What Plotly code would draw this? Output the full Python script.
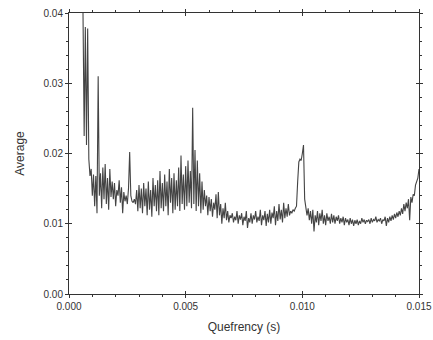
import numpy as np
import plotly.graph_objects as go

# Quefrency grid start/step (s) and averaged cepstrum values
q_start = 0.0006
q_step = 0.00005
average = [
    0.0400, 0.0225, 0.0380, 0.0212, 0.0378, 0.0192, 0.0168, 0.0178, 0.0140, 0.0170,
    0.0125, 0.0168, 0.0115, 0.0310, 0.0140, 0.0172, 0.0122, 0.0180, 0.0135, 0.0185,
    0.0128, 0.0165, 0.0120, 0.0178, 0.0138, 0.0160, 0.0135, 0.0158, 0.0125, 0.0148,
    0.0140, 0.0162, 0.0130, 0.0152, 0.0115, 0.0145, 0.0132, 0.0140, 0.0128, 0.0150,
    0.0202, 0.0140, 0.0132, 0.0130, 0.0135, 0.0128, 0.0148, 0.0118, 0.0155, 0.0122,
    0.0150, 0.0115, 0.0158, 0.0125, 0.0150, 0.0112, 0.0160, 0.0120, 0.0148, 0.0110,
    0.0165, 0.0125, 0.0155, 0.0118, 0.0162, 0.0112, 0.0175, 0.0122, 0.0158, 0.0118,
    0.0170, 0.0125, 0.0160, 0.0112, 0.0178, 0.0130, 0.0165, 0.0115, 0.0172, 0.0120,
    0.0162, 0.0125, 0.0180, 0.0118, 0.0197, 0.0128, 0.0170, 0.0120, 0.0182, 0.0125,
    0.0190, 0.0130, 0.0175, 0.0122, 0.0265, 0.0128, 0.0205, 0.0118, 0.0190, 0.0125,
    0.0172, 0.0115, 0.0160, 0.0120, 0.0148, 0.0125, 0.0140, 0.0112, 0.0138, 0.0118,
    0.0135, 0.0110, 0.0130, 0.0120, 0.0142, 0.0108, 0.0145, 0.0112, 0.0128, 0.0100,
    0.0122, 0.0108, 0.0130, 0.0105, 0.0118, 0.0102, 0.0112, 0.0108, 0.0115, 0.0102,
    0.0110, 0.0105, 0.0118, 0.0100, 0.0112, 0.0106, 0.0115, 0.0098, 0.0110, 0.0104,
    0.0118, 0.0094, 0.0108, 0.0102, 0.0115, 0.0100, 0.0112, 0.0106, 0.0118, 0.0102,
    0.0110, 0.0104, 0.0120, 0.0098, 0.0112, 0.0105, 0.0118, 0.0097, 0.0114, 0.0102,
    0.0120, 0.0100, 0.0116, 0.0108, 0.0125, 0.0098, 0.0118, 0.0104, 0.0128, 0.0106,
    0.0120, 0.0102, 0.0130, 0.0108, 0.0122, 0.0110, 0.0128, 0.0112, 0.0118, 0.0115,
    0.0120, 0.0118, 0.0122, 0.0125, 0.0160, 0.0188, 0.0192, 0.0190, 0.0200, 0.0212,
    0.0135, 0.0125, 0.0112, 0.0122, 0.0105, 0.0118, 0.0100, 0.0120, 0.0089, 0.0112,
    0.0102, 0.0118, 0.0098, 0.0115, 0.0104, 0.0120, 0.0100, 0.0112, 0.0098, 0.0115,
    0.0104, 0.0110, 0.0100, 0.0114, 0.0102, 0.0112, 0.0100, 0.0110, 0.0104, 0.0112,
    0.0100, 0.0108, 0.0102, 0.0110, 0.0098, 0.0108, 0.0102, 0.0106, 0.0098, 0.0108,
    0.0100, 0.0106, 0.0097, 0.0105, 0.0100, 0.0106, 0.0098, 0.0104, 0.0100, 0.0108,
    0.0102, 0.0106, 0.0100, 0.0105, 0.0103, 0.0106, 0.0100, 0.0108, 0.0102, 0.0106,
    0.0104, 0.0110, 0.0102, 0.0106, 0.0104, 0.0108, 0.0100, 0.0106, 0.0104, 0.0110,
    0.0097, 0.0108, 0.0102, 0.0110, 0.0104, 0.0112, 0.0106, 0.0114, 0.0108, 0.0116,
    0.0110, 0.0118, 0.0112, 0.0122, 0.0114, 0.0128, 0.0118, 0.0130, 0.0122, 0.0135,
    0.0105, 0.0138, 0.0130, 0.0142, 0.0140, 0.0155, 0.0162, 0.0165, 0.0178,
]
quefrency = q_start + q_step * np.arange(len(average))

x_ticks = [0.0, 0.005, 0.010, 0.015]
x_labels = ["0.000", "0.005", "0.010", "0.015"]
y_ticks = [0.0, 0.01, 0.02, 0.03, 0.04]
y_labels = ["0.00", "0.01", "0.02", "0.03", "0.04"]

axis_col = "#333333"
font_fam = "Liberation Sans, Arial, sans-serif"

fig = go.Figure()
fig.add_trace(go.Scatter(x=quefrency, y=average, mode="lines",
                         line=dict(color="#444444", width=1.1), showlegend=False,
                         hoverinfo="skip"))

common_x = dict(range=[0, 0.015], showgrid=False, zeroline=False,
                showline=True, linecolor=axis_col, linewidth=1, mirror="ticks",
                tickcolor=axis_col, ticklen=3, tickwidth=1,
                minor=dict(dtick=0.001, ticklen=2, tickcolor=axis_col, showgrid=False))
common_y = dict(range=[0, 0.04], showgrid=False, zeroline=False,
                showline=True, linecolor=axis_col, linewidth=1, mirror="ticks",
                tickcolor=axis_col, ticklen=3, tickwidth=1,
                minor=dict(dtick=0.002, ticklen=2, tickcolor=axis_col, showgrid=False))

fig.update_layout(
    width=433, height=340,
    margin=dict(l=69, r=14, t=13, b=46, autoexpand=False),
    paper_bgcolor="white", plot_bgcolor="white",
    font=dict(family=font_fam, color="#333333", size=10),
    xaxis=dict(**common_x, ticks="outside", tickmode="array", tickvals=x_ticks,
               ticktext=x_labels, tickfont=dict(size=10),
               title=dict(text="Quefrency (s)", font=dict(size=12), standoff=11)),
    yaxis=dict(**common_y, ticks="outside", tickmode="array", tickvals=y_ticks,
               ticktext=y_labels, tickfont=dict(size=10),
               title=dict(text="Average", font=dict(size=12), standoff=16)),
    xaxis2=dict(**common_x, ticks="inside", overlaying="x", matches="x",
                tickvals=x_ticks, showticklabels=False),
    yaxis2=dict(**common_y, ticks="inside", overlaying="y", matches="y",
                tickvals=y_ticks, showticklabels=False),
)
fig.add_trace(go.Scatter(x=[None], y=[None], xaxis="x2", yaxis="y2",
                         showlegend=False, hoverinfo="skip"))

fig.write_html("out.html", config={"displayModeBar": False},
               post_script="document.body.style.margin='0';document.body.style.overflow='hidden';")
